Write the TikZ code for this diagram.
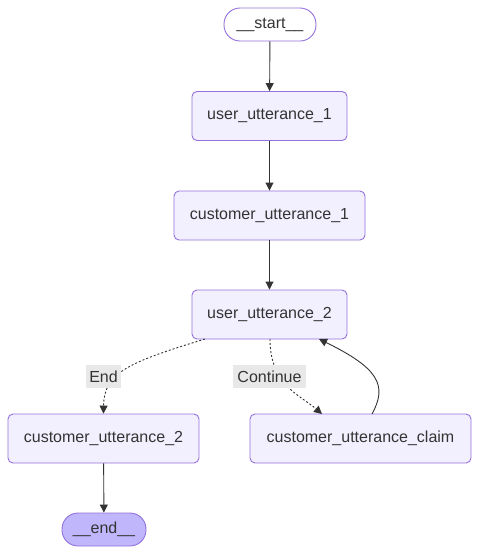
\documentclass[tikz,border=0pt]{standalone}
\usepackage{fontspec}
\setmainfont{Liberation Sans}
\usetikzlibrary{arrows.meta,positioning}
\definecolor{nodefill}{HTML}{F2F0FF}
\definecolor{nodeborder}{HTML}{9370DB}
\definecolor{endfill}{HTML}{BFB6FC}
\definecolor{edgecol}{HTML}{333333}
\definecolor{labelbg}{HTML}{E8E8E8}
\tikzset{
  box/.style={draw=nodeborder, fill=nodefill, rounded corners=5pt, line width=0.9pt,
    minimum height=49pt, inner xsep=0pt, text=edgecol, font=\fontsize{16}{19}\selectfont},
  pill/.style={draw=nodeborder, line width=0.9pt, rounded corners=16pt,
    minimum height=33pt, inner xsep=0pt, text=edgecol, font=\fontsize{16}{19}\selectfont},
  edge/.style={draw=edgecol, line width=0.9pt, -{Triangle[length=8pt,width=8pt]}},
  dottededge/.style={edge, dash pattern=on 2pt off 2pt},
  elabel/.style={fill=labelbg, text=edgecol, inner sep=0pt, minimum height=23pt, font=\fontsize{16}{19}\selectfont},
}
\begin{document}
\begin{tikzpicture}[x=1pt,y=-1pt]
\useasboundingbox (0,0) rectangle (480,555);
\node[pill, fill=white, minimum width=92pt] (start) at (270,24.5) {\_\_start\_\_};
\node[box, minimum width=155pt] (uu1) at (269.5,116) {user\_utterance\_1};
\node[box, minimum width=191pt] (cu1) at (269.5,215.5) {customer\_utterance\_1};
\node[box, minimum width=155pt] (uu2) at (269.5,314.5) {user\_utterance\_2};
\node[box, minimum width=191pt] (cu2) at (103.5,438.5) {customer\_utterance\_2};
\node[box, minimum width=221pt] (claim) at (360.5,438.5) {customer\_utterance\_claim};
\node[pill, fill=endfill, minimum width=84pt] (end) at (104,529.5) {\_\_end\_\_};
\coordinate (uu2a) at (205,339);
\coordinate (uu2b) at (270,339);
\coordinate (uu2c) at (319,339);
\coordinate (cla) at (322,414);
\coordinate (clb) at (372,414);

\draw[edge] (start) -- (uu1);
\draw[edge] (uu1) -- (cu1);
\draw[edge] (cu1) -- (uu2);
\draw[edge] (cu2) -- (end);
\draw[dottededge] (uu2a) .. controls (130,362) and (104,372) .. (cu2.north);
\draw[dottededge] (uu2b) .. controls (270,385) and (300,395) .. (cla);
\draw[edge] (clb) .. controls (388,385) and (378,368) .. (uu2c);
\node[elabel, minimum width=35pt] (lend) at (103.5,376.5) {End};
\node[elabel, minimum width=73pt] (lcont) at (269.5,376.5) {Continue};
\end{tikzpicture}
\end{document}
